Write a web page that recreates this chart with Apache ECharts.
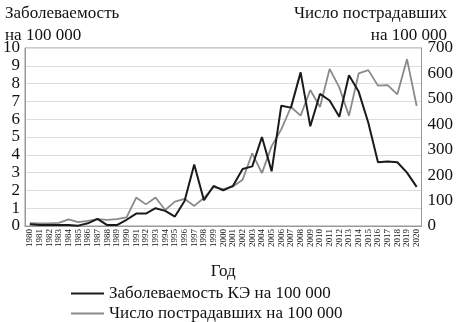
<!DOCTYPE html>
<html>
	<head>
		<meta charset="UTF-8">
		<title></title>
		<script src="https://cdn.jsdelivr.net/npm/echarts@6/dist/echarts.min.js" type="text/javascript" charset="utf-8"></script>
		<style>
			html, body { margin: 0; padding: 0; background: #fff; }
		</style>
	</head>
	<body>
		<div id="chart" style="width: 456px;height: 322px;"></div>
		<script type="text/javascript">
			// годы
			var years = ['1980', '1981', '1982', '1983', '1984', '1985', '1986', '1987', '1988', '1989',
				'1990', '1991', '1992', '1993', '1994', '1995', '1996', '1997', '1998', '1999',
				'2000', '2001', '2002', '2003', '2004', '2005', '2006', '2007', '2008', '2009',
				'2010', '2011', '2012', '2013', '2014', '2015', '2016', '2017', '2018', '2019', '2020'];
			// заболеваемость КЭ на 100 000 (левая ось)
			var incidence = [0.1, 0.05, 0.05, 0.05, 0.05, 0.02, 0.15, 0.4, 0.05, 0.05,
				0.35, 0.7, 0.7, 1.0, 0.85, 0.53, 1.4, 3.45, 1.45, 2.25,
				2.0, 2.25, 3.2, 3.35, 5.0, 3.07, 6.76, 6.65, 8.63, 5.6,
				7.42, 7.05, 6.14, 8.47, 7.55, 5.8, 3.58, 3.62, 3.58, 3.0, 2.2];
			// число пострадавших на 100 000 (правая ось)
			var victims = [11, 10, 10, 12, 26, 15, 20, 27, 24, 27,
				34, 112, 85, 112, 63, 96, 107, 79, 110, 153,
				145, 155, 182, 286, 208, 314, 380, 468, 434, 535,
				468, 618, 545, 433, 600, 613, 552, 554, 518, 656, 472];
			var leftTicks = [0, 10, 1];
			var rightTicks = [0, 700, 100];

			var nameIncidence = 'Заболеваемость КЭ на 100 000';
			var nameVictims = 'Число пострадавших на 100 000';
			var font = '"Liberation Serif", "DejaVu Serif", serif';
			var titleStyle = {fontFamily: font, fontSize: 17, fontWeight: 'normal', color: '#111', lineHeight: 22};

			var chart = echarts.init(document.getElementById('chart'));
			var option = {
				animation: false,
				textStyle: {fontFamily: font, color: '#111'},
				title: [
					{text: 'Заболеваемость\nна 100 000', left: 0, top: -2, textStyle: titleStyle},
					{text: 'Число пострадавших', right: 4, top: -2, textStyle: titleStyle},
					{text: 'на 100 000', right: 4, top: 20, textStyle: titleStyle}
				],
				legend: {
					orient: 'vertical',
					left: 66, top: 280, height: 42,
					icon: 'rect',
					itemWidth: 33, itemHeight: 2, itemGap: 3,
					data: [nameIncidence, nameVictims],
					textStyle: {fontFamily: font, fontSize: 17, color: '#111'}
				},
				grid: {
					left: 23, right: 32, top: 48, bottom: 96,
					show: true, borderColor: '#999', borderWidth: 1
				},
				xAxis: {
					type: 'category',
					data: years,
					boundaryGap: true,
					name: 'Год',
					nameLocation: 'middle',
					nameGap: 37,
					nameTextStyle: {fontFamily: font, fontSize: 17, color: '#111'},
					axisLine: {lineStyle: {color: '#999'}},
					axisTick: {interval: 0, length: 3, lineStyle: {color: '#999'}},
					axisLabel: {interval: 0, rotate: 90, fontSize: 9, margin: 3, color: '#111'},
					splitLine: {show: false}
				},
				yAxis: [
					{
						type: 'value',
						min: leftTicks[0], max: leftTicks[1], interval: leftTicks[2],
						axisLine: {show: true, lineStyle: {color: '#999'}},
						axisTick: {show: false},
						axisLabel: {fontSize: 17, margin: 5, color: '#111'},
						splitLine: {lineStyle: {color: '#ddd'}}
					},
					{
						type: 'value',
						min: rightTicks[0], max: rightTicks[1], interval: rightTicks[2],
						position: 'right',
						axisLine: {show: true, lineStyle: {color: '#999'}},
						axisTick: {show: false},
						axisLabel: {fontSize: 17, margin: 6, color: '#111'},
						splitLine: {show: false}
					}
				],
				series: [
					{
						name: nameVictims,
						type: 'line',
						yAxisIndex: 1,
						data: victims,
						symbol: 'none',
						color: '#8a8a8a',
						lineStyle: {color: '#8a8a8a', width: 1.8}
					},
					{
						name: nameIncidence,
						type: 'line',
						yAxisIndex: 0,
						data: incidence,
						symbol: 'none',
						color: '#1a1a1a',
						lineStyle: {color: '#1a1a1a', width: 2}
					}
				]
			};
			chart.setOption(option, true);
		</script>
	</body>
</html>
